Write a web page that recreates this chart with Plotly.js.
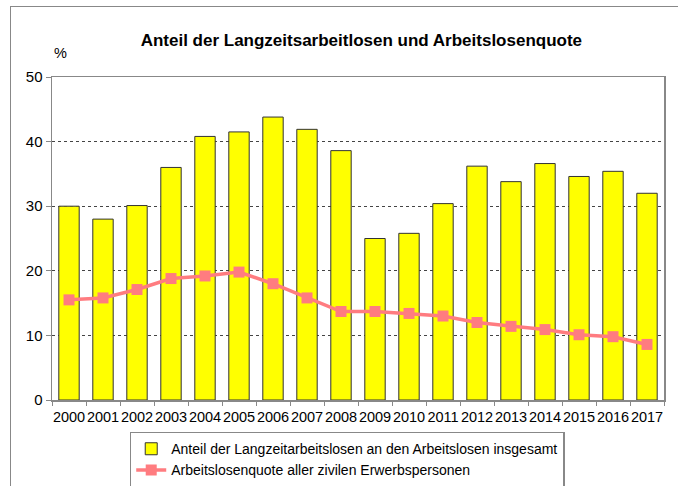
<!DOCTYPE html>
<html>
<head>
<meta charset="utf-8">
<script src="https://cdn.plot.ly/plotly-3.0.1.min.js"></script>
<style>
  html, body { margin: 0; padding: 0; background: #fff; }
  #wrap { position: relative; width: 678px; height: 486px; overflow: hidden; }
  #chart { width: 678px; height: 486px; }
  #frame { position: absolute; left: 10px; top: 6px; width: 700px; height: 500px;
           border-left: 1.5px solid #888; border-top: 1.5px solid #888; pointer-events: none; }
</style>
</head>
<body>
<div id="wrap">
  <div id="chart"></div>
  <div id="frame"></div>
</div>
<script>
const years = ['2000','2001','2002','2003','2004','2005','2006','2007','2008','2009',
               '2010','2011','2012','2013','2014','2015','2016','2017'];
const anteilLangzeit = [30.0, 28.0, 30.1, 36.0, 40.8, 41.5, 43.8, 41.9, 38.6, 25.0,
                        25.8, 30.4, 36.2, 33.8, 36.6, 34.6, 35.4, 32.0];
const arbeitslosenquote = [15.5, 15.8, 17.1, 18.8, 19.2, 19.8, 18.0, 15.8, 13.7, 13.7,
                           13.4, 13.0, 12.0, 11.4, 10.9, 10.1, 9.8, 8.6];
const yTicks = [0, 10, 20, 30, 40, 50];
const seriesNames = ['Anteil der Langzeitarbeitslosen an den Arbeitslosen insgesamt',
                     'Arbeitslosenquote aller zivilen Erwerbspersonen'];
const titleText = 'Anteil der Langzeitsarbeitlosen und Arbeitslosenquote';

const font = 'Liberation Sans, Arial, sans-serif';

const traces = [
  {
    type: 'bar', x: years, y: anteilLangzeit, name: seriesNames[0],
    marker: { color: '#FFFF00', line: { color: '#333333', width: 1 } }
  },
  {
    type: 'scatter', mode: 'lines+markers', x: years, y: arbeitslosenquote, name: seriesNames[1],
    line: { color: '#FF7C80', width: 3.5 },
    marker: { symbol: 'square', size: 11, color: '#FF7C80' }
  }
];

const layout = {
  width: 678, height: 486,
  margin: { l: 52, r: 14, t: 77, b: 86, autoexpand: false },
  paper_bgcolor: '#fff', plot_bgcolor: '#fff',
  font: { family: font, size: 14, color: '#000' },
  bargap: 0.4,
  showlegend: true,
  title: { text: '<b>' + titleText + '</b>', font: { family: font, size: 17, color: '#000' },
           x: 0.533, xanchor: 'center', y: 0.918, yanchor: 'middle' },
  xaxis: {
    type: 'category', range: [-0.5, years.length - 0.5], autorange: false,
    tickson: 'boundaries', ticks: 'outside', ticklen: 4, tickcolor: '#888',
    showline: true, linecolor: '#888', linewidth: 1.5, mirror: true, tickangle: 0, automargin: false,
    ticklabelstandoff: 3,
    showgrid: false, tickfont: { family: font, size: 14.5, color: '#000' }
  },
  yaxis: {
    range: [0, 50], autorange: false, tickvals: yTicks, ticks: 'outside', ticklen: 5, tickcolor: '#888',
    showline: true, linecolor: '#888', linewidth: 1.5, mirror: true, automargin: false,
    showgrid: true, gridcolor: '#444', griddash: 'dot', gridwidth: 1,
    zeroline: false, tickfont: { family: font, size: 15, color: '#000' }
  },
  legend: {
    x: 0.127, xanchor: 'left', y: -0.098, yanchor: 'top', orientation: 'v',
    bordercolor: '#888', borderwidth: 1.5, bgcolor: '#fff',
    font: { family: font, size: 14, color: '#000' },
    tracegroupgap: 0, itemwidth: 30
  },
  annotations: [
    { text: '%', xref: 'paper', yref: 'paper', x: 0.0, y: 1.075, xanchor: 'left', yanchor: 'middle',
      showarrow: false, font: { family: font, size: 14.5, color: '#000' } }
  ]
};

Plotly.newPlot('chart', traces, layout, { displayModeBar: false, staticPlot: true });
</script>
</body>
</html>
